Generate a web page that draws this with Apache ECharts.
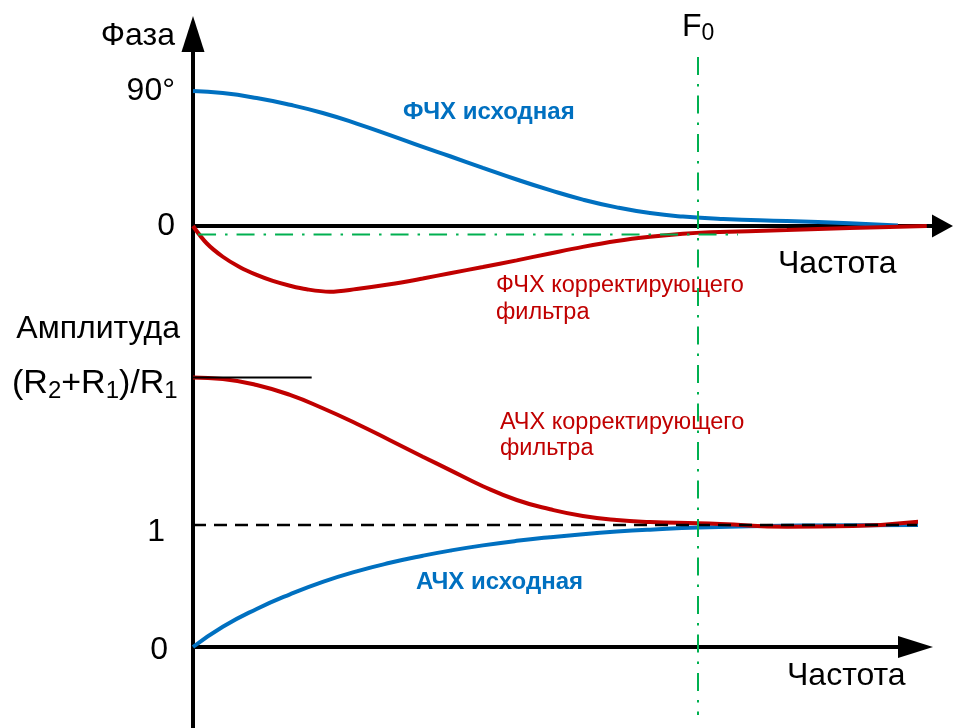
<!DOCTYPE html>
<html><head><meta charset="utf-8">
<script src="https://cdn.jsdelivr.net/npm/echarts@6/dist/echarts.min.js"></script>
<style>html,body{margin:0;padding:0;background:#fff}#c{width:953px;height:728px}</style>
</head><body><div id="c"></div>
<script>
// Frequency is given in units of F0 (F0 = 1)
const F0 = 1;
// Phase response, original (degrees)
const phaseOrigFreq = [0, 0.059, 0.126, 0.192, 0.257, 0.324, 0.390, 0.455, 0.509, 0.574, 0.641, 0.707, 0.772, 0.839, 0.905, 0.970, 1.05, 1.176, 1.3, 1.396];
const phaseOrigDeg  = [90, 88.6, 85.3, 80.8, 75.3, 68.3, 60.6, 52.7, 46.5, 38.8, 31.0, 23.9, 17.6, 12.4, 8.6, 6.3, 4.7, 3.3, 1.8, 0.3];
// Phase response, correcting filter (degrees)
const phaseFiltFreq = [0, 0.027, 0.059, 0.093, 0.126, 0.158, 0.192, 0.225, 0.271, 0.324, 0.390, 0.455, 0.509, 0.574, 0.641, 0.707, 0.772, 0.839, 0.905, 0.970, 1.024, 1.176, 1.3, 1.453];
const phaseFiltDeg  = [0, -11.5, -20.5, -27.5, -32.6, -36.6, -39.8, -42.2, -43.8, -42.0, -38.9, -35.0, -31.5, -27.3, -22.9, -18.3, -13.9, -10.0, -7.2, -5.2, -4.2, -2.7, -1.3, 0];
// Amplitude response, correcting filter
const ampFiltFreq = [0, 0.059, 0.126, 0.192, 0.257, 0.324, 0.390, 0.455, 0.509, 0.574, 0.641, 0.707, 0.772, 0.839, 0.905, 1.0, 1.044, 1.176, 1.307, 1.436];
const ampFiltGain = [2.21, 2.197, 2.148, 2.066, 1.957, 1.830, 1.695, 1.560, 1.450, 1.318, 1.205, 1.129, 1.074, 1.041, 1.025, 1.014, 1.008, 0.986, 0.992, 1.027];
// Amplitude response, original
const ampOrigFreq = [0, 0.059, 0.126, 0.192, 0.257, 0.324, 0.390, 0.455, 0.509, 0.574, 0.641, 0.707, 0.772, 0.839, 0.905, 1.0, 1.2, 1.465];
const ampOrigGain = [0, 0.166, 0.312, 0.432, 0.534, 0.620, 0.690, 0.748, 0.790, 0.833, 0.870, 0.900, 0.925, 0.946, 0.962, 0.980, 0.995, 1.0];
// Reference levels
const gainRef = 1;           // dashed level "1"
const gainDC = 2.21;         // (R2+R1)/R1
const phaseMarkerDeg = -5.7; // green dash-dot level
const phaseTicks = [0, 90];
const gainTicks = [0, 1];

const zip = (a, b) => a.map((v, i) => [v, b[i]]);
const FONT = '"Liberation Sans", Arial, Helvetica, sans-serif';
const BLUE = '#0070C0', RED = '#C00000', GREEN = '#00B050';

// layout (pixels)
const X0 = 193, PX = 505;
const G1 = { top: 34, bottom: 340, zero: 226, k: 1.5, right: 942.5 };
const G2 = { top: 340, bottom: 728, zero: 647, k: 122, right: 915.5 };
const y1min = -(G1.bottom - G1.zero) / G1.k, y1max = (G1.zero - G1.top) / G1.k;
const y2min = -(G2.bottom - G2.zero) / G2.k, y2max = (G2.zero - G2.top) / G2.k;
const DASHDOT = [18, 9, 2.5, 9];

const xAxisBase = (right, arrow) => ({
  type: 'value', min: 0, max: (right - X0) / PX,
  axisLine: { show: true, onZero: true, symbol: ['none', 'triangle'], symbolSize: arrow,
    lineStyle: { color: '#000', width: 4 } },
  axisTick: { show: false }, axisLabel: { show: false }, splitLine: { show: false }
});
const curve = (name, xi, data, color, smooth) => ({
  name, type: 'line', xAxisIndex: xi, yAxisIndex: xi, data, smooth,
  showSymbol: false, symbol: 'none', clip: false, z: 2, lineStyle: { color, width: 4 }
});

const chart = echarts.init(document.getElementById('c'), null, { renderer: 'canvas' });
chart.setOption({
  animation: false,
  backgroundColor: '#fff',
  grid: [
    { left: X0, top: G1.top, width: G1.right - X0, height: G1.bottom - G1.top },
    { left: X0, top: G2.top, width: G2.right - X0, height: G2.bottom - G2.top }
  ],
  xAxis: [
    Object.assign(xAxisBase(G1.right, [23, 21]), { gridIndex: 0 }),
    Object.assign(xAxisBase(G2.right, [22, 35]), { gridIndex: 1 })
  ],
  yAxis: [
    { gridIndex: 0, type: 'value', min: y1min, max: y1max,
      axisLine: { show: true, onZero: true, symbol: ['none', 'triangle'], symbolSize: [23, 36],
        lineStyle: { color: '#000', width: 4 } },
      axisTick: { show: false }, splitLine: { show: false },
      axisLabel: { show: true, customValues: phaseTicks, margin: 18, color: '#000', fontSize: 32, fontFamily: FONT,
        formatter: v => v === 90 ? '90°' : String(v) } },
    { gridIndex: 1, type: 'value', min: y2min, max: y2max,
      axisLine: { show: true, onZero: true, lineStyle: { color: '#000', width: 4 } },
      axisTick: { show: false }, splitLine: { show: false },
      axisLabel: { show: true, customValues: gainTicks, margin: 13, color: '#000', fontFamily: FONT,
        formatter: v => v === 1 ? '{o|1}' : '{z|0}',
        rich: {
          o: { fontSize: 32, fontFamily: FONT, color: '#000', padding: [14, 15, 0, 0] },
          z: { fontSize: 32, fontFamily: FONT, color: '#000', padding: [6, 12, 0, 0] }
        } } }
  ],
  series: [
    curve('ФЧХ исходная', 0, zip(phaseOrigFreq, phaseOrigDeg), BLUE, 0.5),
    curve('ФЧХ корректирующего фильтра', 0, zip(phaseFiltFreq, phaseFiltDeg), RED, 0.35),
    curve('АЧХ исходная', 1, zip(ampOrigFreq, ampOrigGain), BLUE, 0.5),
    curve('АЧХ корректирующего фильтра', 1, zip(ampFiltFreq, ampFiltGain), RED, 0.5),
    // reference lines
    { type: 'line', xAxisIndex: 1, yAxisIndex: 1, data: [[0, gainRef], [1.465, gainRef]], clip: false,
      showSymbol: false, symbol: 'none', z: 3, lineStyle: { color: '#000', width: 2.5, type: [13, 8] } },
    { type: 'line', xAxisIndex: 1, yAxisIndex: 1, data: [[0, gainDC], [0.235, gainDC]],
      showSymbol: false, symbol: 'none', z: 3, lineStyle: { color: '#000', width: 2 } },
    { type: 'line', xAxisIndex: 0, yAxisIndex: 0, data: [[0.01, phaseMarkerDeg], [1.079, phaseMarkerDeg]],
      showSymbol: false, symbol: 'none', z: 4, lineStyle: { color: GREEN, width: 2, type: DASHDOT } },
    { type: 'line', xAxisIndex: 0, yAxisIndex: 0, data: [[F0, 112.7], [F0, y1min]],
      showSymbol: false, symbol: 'none', z: 4, lineStyle: { color: GREEN, width: 2, type: DASHDOT } },
    { type: 'line', xAxisIndex: 1, yAxisIndex: 1, data: [[F0, y2max], [F0, -0.557]], clip: false,
      showSymbol: false, symbol: 'none', z: 4, lineStyle: { color: GREEN, width: 2, type: DASHDOT, dashOffset: 13.5 } }
  ],
  graphic: [
    { type: 'text', x: 175, y: 36, style: { text: 'Фаза', font: '32px ' + FONT, fill: '#000', align: 'right', verticalAlign: 'middle' } },
    { type: 'text', x: 778, y: 264, style: { text: 'Частота', font: '32px ' + FONT, fill: '#000', align: 'left', verticalAlign: 'middle' } },
    { type: 'text', x: 787, y: 676, style: { text: 'Частота', font: '32px ' + FONT, fill: '#000', align: 'left', verticalAlign: 'middle' } },
    { type: 'text', x: 180, y: 329, style: { text: 'Амплитуда', font: '32px ' + FONT, fill: '#000', align: 'right', verticalAlign: 'middle' } },
    { type: 'text', x: 682, y: 27, style: { text: '{a|F}{b|0}', align: 'left', verticalAlign: 'middle',
        rich: { a: { fontSize: 32, fontFamily: FONT, fill: '#000', lineHeight: 36 },
                b: { fontSize: 23, fontFamily: FONT, fill: '#000', lineHeight: 24, verticalAlign: 'bottom' } } } },
    { type: 'text', x: 12, y: 384, style: { text: '{a|(R}{b|2}{a|+R}{b|1}{a|)/R}{b|1}', align: 'left', verticalAlign: 'middle',
        rich: { a: { fontSize: 34, fontFamily: FONT, fill: '#000', lineHeight: 38 },
                b: { fontSize: 24, fontFamily: FONT, fill: '#000', lineHeight: 25, verticalAlign: 'bottom' } } } },
    { type: 'text', x: 403, y: 112, style: { text: 'ФЧХ исходная', font: 'bold 24px ' + FONT, fill: BLUE, align: 'left', verticalAlign: 'middle' } },
    { type: 'text', x: 416, y: 582, style: { text: 'АЧХ исходная', font: 'bold 24px ' + FONT, fill: BLUE, align: 'left', verticalAlign: 'middle' } },
    { type: 'text', x: 496, y: 272.5, style: { text: 'ФЧХ корректирующего\nфильтра', font: '23.5px ' + FONT, fill: RED, lineHeight: 27, align: 'left', verticalAlign: 'top' } },
    { type: 'text', x: 500, y: 409.5, style: { text: 'АЧХ корректирующего\nфильтра', font: '23.5px ' + FONT, fill: RED, lineHeight: 26, align: 'left', verticalAlign: 'top' } }
  ]
});
</script></body></html>
